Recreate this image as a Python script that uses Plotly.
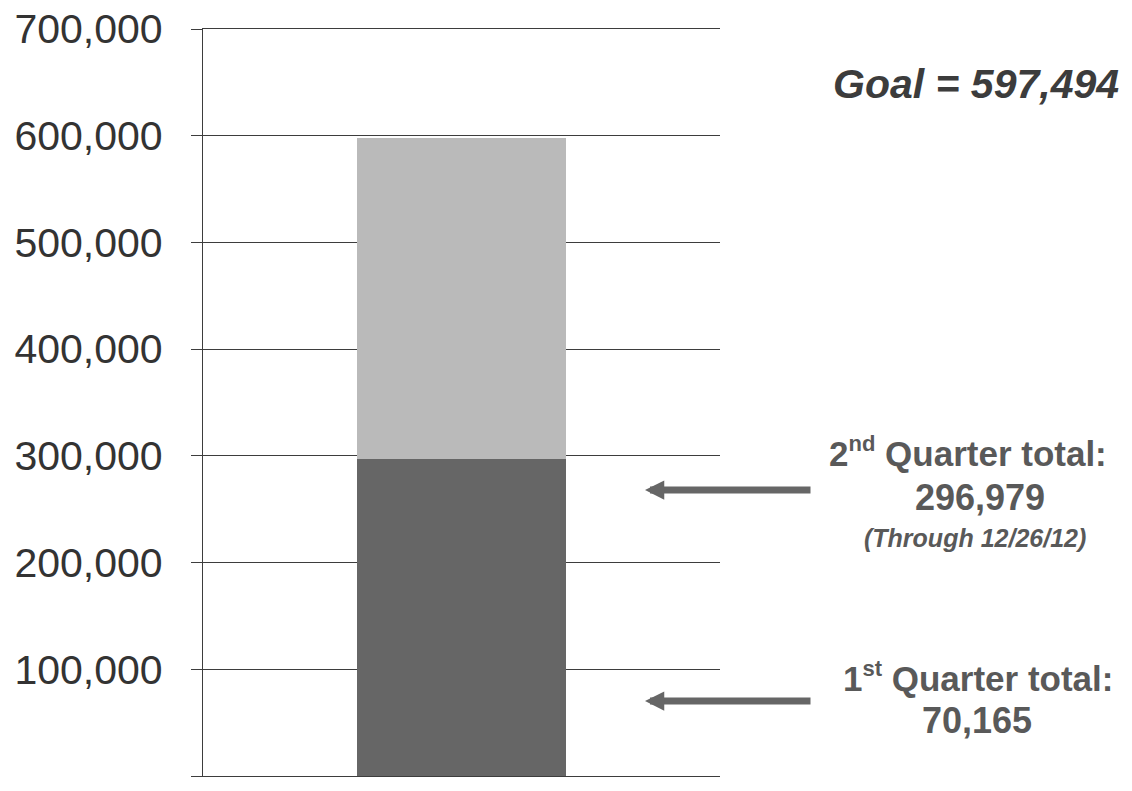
import plotly.graph_objects as go

# ---- data ----
categories = [0]
to_date_total = [296979]          # cumulative through 12/26/12 (dark)
goal_total = 597494
remaining = [goal_total - to_date_total[0]]  # light segment up to goal
q1_total = 70165
q2_total = 296979
tick_vals = [0, 100000, 200000, 300000, 400000, 500000, 600000, 700000]
tick_text = ["0", "100,000", "200,000", "300,000", "400,000", "500,000", "600,000", "700,000"]
q2_arrow_y = 268000   # where the 2nd-quarter arrow sits on the value axis

FONT = "Liberation Sans, Arial, sans-serif"
LINE = "#3d3d3d"

fig = go.Figure()
fig.add_trace(go.Bar(x=categories, y=to_date_total, width=0.406,
                     marker=dict(color="#666666", line=dict(width=0)), showlegend=False))
fig.add_trace(go.Bar(x=categories, y=remaining, width=0.406,
                     marker=dict(color="#bababa", line=dict(width=0)), showlegend=False))

fig.update_layout(
    barmode="stack",
    width=1132, height=791,
    margin=dict(l=203, r=412, t=29, b=15, autoexpand=False),
    paper_bgcolor="white", plot_bgcolor="white",
    xaxis=dict(range=[-0.5, 0.5], showticklabels=False, showgrid=False,
               zeroline=False, showline=True, mirror=True, linecolor=LINE, linewidth=1.4,
               ticks="", automargin=False),
    yaxis=dict(range=[0, 700000], tickvals=tick_vals, ticktext=tick_text,
               showgrid=True, gridcolor=LINE, gridwidth=1.4,
               zeroline=True, zerolinecolor=LINE, zerolinewidth=1.4,
               showline=True, linecolor=LINE, linewidth=1.4,
               ticks="outside", ticklen=11, tickcolor=LINE, tickwidth=1.4,
               ticklabelstandoff=20, automargin=False,
               tickfont=dict(family=FONT, size=41, color="#333333")),
)

TOP, BOT = 29.0, 776.0
def px_x(px):
    return (px - 203) / 517.0
def px_y(py):
    return (BOT - py) / (BOT - TOP)

SUP = "<sup><span style='font-size:22px'>{}</span></sup>"

annotations = [
    dict(text="<b><i>Goal = 597,494</i></b>", xref="paper", yref="paper",
         x=px_x(1121), xanchor="right", y=px_y(84), yanchor="middle", showarrow=False,
         font=dict(family=FONT, size=41, color="#3c3c3c")),
    dict(text="<b>2" + SUP.format("nd") + " Quarter total:</b>", xref="paper", yref="paper",
         x=px_x(968), xanchor="center", y=px_y(452), yanchor="middle",
         showarrow=False, font=dict(family=FONT, size=35, color="#595959")),
    dict(text="<b>296,979</b>", xref="paper", yref="paper",
         x=px_x(980), xanchor="center", y=px_y(497), yanchor="middle",
         showarrow=False, font=dict(family=FONT, size=36, color="#595959")),
    dict(text="<b><i>(Through 12/26/12)</i></b>", xref="paper", yref="paper",
         x=px_x(975), xanchor="center", y=px_y(538), yanchor="middle",
         showarrow=False, font=dict(family=FONT, size=25, color="#595959")),
    dict(text="<b>1" + SUP.format("st") + " Quarter total:</b>", xref="paper", yref="paper",
         x=px_x(978), xanchor="center", y=px_y(677), yanchor="middle",
         showarrow=False, font=dict(family=FONT, size=35, color="#595959")),
    dict(text="<b>70,165</b>", xref="paper", yref="paper",
         x=px_x(977), xanchor="center", y=px_y(720), yanchor="middle",
         showarrow=False, font=dict(family=FONT, size=36, color="#595959")),
    # arrows
    dict(text="", xref="paper", yref="y", x=px_x(645), y=q2_arrow_y,
         ax=167, ay=0, axref="pixel", ayref="pixel", showarrow=True,
         arrowhead=2, arrowsize=0.55, arrowwidth=7, arrowcolor="#666666"),
    dict(text="", xref="paper", yref="y", x=px_x(645), y=q1_total,
         ax=167, ay=0, axref="pixel", ayref="pixel", showarrow=True,
         arrowhead=2, arrowsize=0.55, arrowwidth=7, arrowcolor="#666666"),
]
fig.update_layout(annotations=annotations)

fig.write_html("out.html")
